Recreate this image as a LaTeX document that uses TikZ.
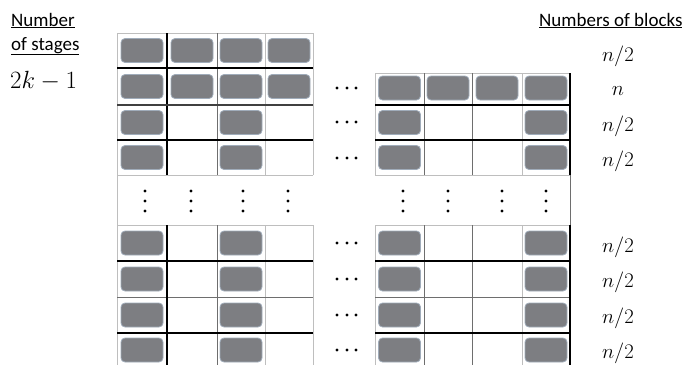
\documentclass[tikz,border=0pt]{standalone}
\usepackage[no-math]{fontspec}
\setmainfont{Carlito}
\definecolor{blockgray}{RGB}{125,126,130}
\definecolor{blockedge}{RGB}{160,172,186}
\definecolor{gridgray}{RGB}{190,190,190}
\definecolor{middark}{RGB}{110,110,110}
\tikzset{
  block/.style={rectangle, rounded corners=4pt, minimum width=42pt, minimum height=24pt,
    fill=blockgray, draw=blockedge, line width=0.8pt, inner sep=0pt},
  thin grid/.style={draw=gridgray, line width=0.7pt},
  mid line/.style={draw=middark, line width=0.9pt},
  heavy/.style={draw=black, line width=1.6pt},
  semiheavy/.style={draw=black!75, line width=1.3pt},
  headtext/.style={font=\fontsize{19}{22}\selectfont, anchor=base west, inner sep=0pt},
  countlabel/.style={font=\fontsize{20}{24}\selectfont, anchor=base, inner sep=0pt},
  dotmark/.style={fill=black},
}
\begin{document}
\begin{tikzpicture}[x=1pt,y=-1pt]
\useasboundingbox (0,0) rectangle (689,365);
% ---------- thin gray grid ----------
% left upper
\foreach \x in {117,167,217,265,313} \draw[thin grid] (\x,33) -- (\x,175);
\foreach \y in {33,68,105,140,175} \draw[thin grid] (117,\y) -- (313,\y);
% left lower
\foreach \x in {167,217,265,313} \draw[thin grid] (\x,225) -- (\x,365);
\foreach \y in {225,261,297,333} \draw[thin grid] (117,\y) -- (313,\y);
\draw[thin grid] (117,33) -- (117,365);
% right upper
\foreach \x in {375,424,472,522,570} \draw[thin grid] (\x,73) -- (\x,175);
\foreach \y in {73,105,140,175} \draw[thin grid] (375,\y) -- (570,\y);
% right lower
\foreach \x in {375,424,472,522} \draw[thin grid] (\x,225) -- (\x,365);
\foreach \y in {225,261,297,333} \draw[thin grid] (375,\y) -- (570,\y);
\draw[mid line] (570,73) -- (570,365);
% ---------- darker interior lines ----------
\draw[mid line] (217,33) -- (217,175);
\draw[mid line] (217,225) -- (217,365);
\foreach \x in {424,472} {
  \draw[mid line] (\x,73) -- (\x,175);
  \draw[mid line] (\x,225) -- (\x,365);
}
\draw[mid line] (117,297) -- (313,297);
\draw[mid line] (375,297) -- (570,297);
% ---------- heavy lines ----------
\draw[heavy] (167,33) -- (167,175);
\draw[heavy] (167,225) -- (167,365);
\draw[heavy] (117,68) -- (313,68);
\draw[semiheavy] (117,105) -- (313,105);
\draw[heavy] (117,140) -- (313,140);
\draw[heavy] (117,261) -- (313,261);
\draw[heavy] (117,333) -- (313,333);
\draw[heavy] (375,105) -- (570,105);
\draw[heavy] (375,140) -- (570,140);
\draw[heavy] (375,261) -- (570,261);
\draw[heavy] (375,333) -- (570,333);
\draw[heavy] (570,73) -- (570,175);
\draw[heavy] (570,225) -- (570,365);
% ---------- blocks ----------
\foreach \r/\y in {1/50.5,2/86.5}
  \foreach \c/\x in {1/142,2/192,3/241,4/289}
    \node[block] (L-\r-\c) at (\x,\y) {};
\foreach \c/\x in {1/399.5,2/448,3/497,4/546}
  \node[block] (R-2-\c) at (\x,88) {};
\foreach \r/\y in {3/122.5,4/157.5,5/243,6/279,7/315,8/350}{
  \node[block] (L-\r-1) at (142,\y) {};
  \node[block] (L-\r-3) at (241,\y) {};
  \node[block] (R-\r-1) at (399.5,\y) {};
  \node[block] (R-\r-4) at (546,\y) {};
}
% ---------- horizontal ellipses ----------
\foreach \y in {88,122,158,243,279,315,350}
  \foreach \x in {337,347,356}
    \fill[dotmark] (\x,\y) circle (1.6pt);
% ---------- vertical ellipses ----------
\foreach \x in {145,191,243,288,403,448,502,546}
  \foreach \y in {191,201,211}
    \fill[dotmark] (\x,\y) circle (1.6pt);
% ---------- texts ----------
\node[headtext] (h1) at (11,26) {\underline{Number}};
\node[headtext] (h2) at (11,50) {\underline{of stages}};
\node[anchor=base west, inner sep=0pt, font=\fontsize{27.5}{32}\selectfont] (stages) at (10,88) {$2k-1$};
\node[headtext] (h3) at (539,26) {\underline{Numbers of blocks}};
\node[countlabel] (n1) at (618,61) {$n/2$};
\node[countlabel] (n2) at (618,95) {$n$};
\node[countlabel] (n3) at (618,131) {$n/2$};
\node[countlabel] (n4) at (618,166) {$n/2$};
\node[countlabel] (n5) at (618,252) {$n/2$};
\node[countlabel] (n6) at (618,287) {$n/2$};
\node[countlabel] (n7) at (618,323) {$n/2$};
\node[countlabel] (n8) at (618,358) {$n/2$};
\end{tikzpicture}
\end{document}
